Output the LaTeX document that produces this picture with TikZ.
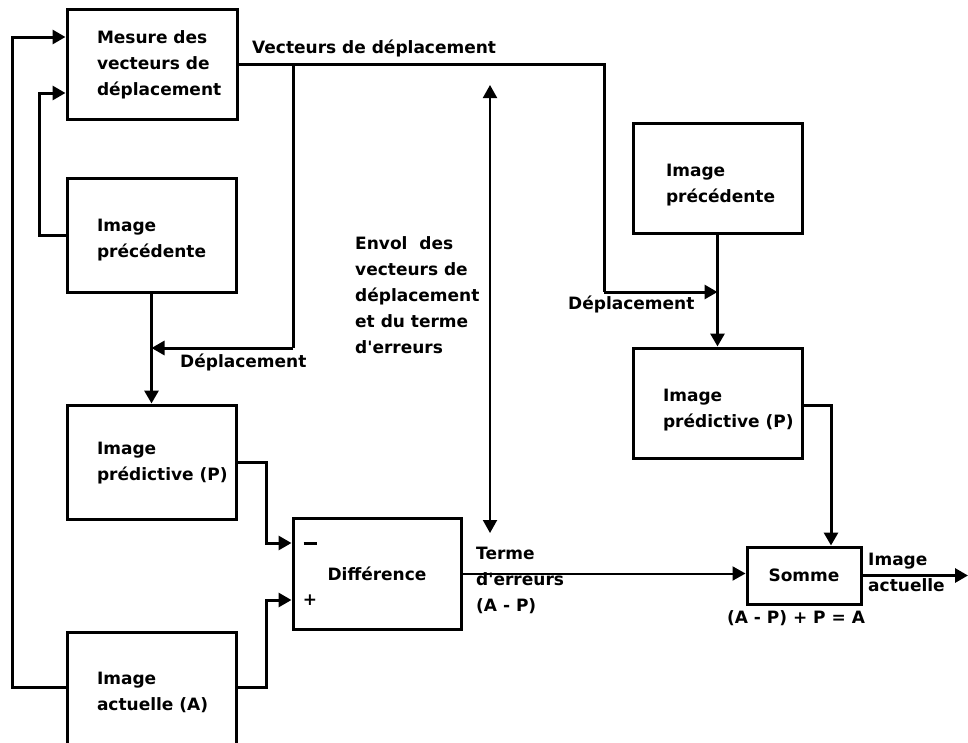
\documentclass[tikz,border=0pt]{standalone}
\usepackage{fontspec}
\setmainfont{DejaVu Sans}
\usetikzlibrary{arrows.meta}
\newcommand{\apos}{\textquotesingle}
% left-aligned block of lines in a fixed-width slot (may run past it),
% optionally dropped by #1 without changing its reported size
\newcommand{\slot}[3][0pt]{\makebox[#2][l]{\raisebox{-#1}[\height][\depth]{\begin{tabular}[c]{@{}l@{}}#3\end{tabular}}}}
\begin{document}
\begin{tikzpicture}[x=1pt,y=-1pt,
  every node/.style={font=\bfseries\fontsize{17}{26}\selectfont, inner sep=0pt},
  box/.style={draw, line width=3pt, inner xsep=30pt, inner ysep=0pt},
  cbox/.style={draw, line width=3pt, align=center},
  wire/.style={line width=3pt},
  thinwire/.style={line width=2pt},
  arr/.style={-{Triangle[length=13pt,width=14pt]}},
  dblarr/.style={{Triangle[length=13pt,width=14pt]}-{Triangle[length=13pt,width=14pt]}},
  lbl/.style={align=left}
]
\useasboundingbox (0,0) rectangle (968,742);
\clip (0,0) rectangle (968,742);

% blocks of the encoder (left) and decoder (right)
\node[box, minimum height=110pt] (mes) at (152,64)
  {\slot{110pt}{Mesure des\\vecteurs de\\déplacement}};
\node[box, minimum height=114pt] (prec) at (151.5,235)
  {\slot[4pt]{109pt}{Image\\précédente}};
\node[box, minimum height=114pt] (pred) at (151.5,462)
  {\slot{109pt}{Image\\prédictive (P)}};
\node[box, minimum height=118pt] (act) at (151.5,691)
  {\slot[1pt]{109pt}{Image\\actuelle (A)}};
\node[cbox, minimum width=168pt, minimum height=111pt] (diff) at (377,573.5)
  {Différence};
\node[box, minimum height=110pt, inner xsep=33pt] (rprec) at (717.5,178)
  {\slot[6pt]{103pt}{Image\\précédente}};
\node[box, minimum height=110pt] (rpred) at (717.5,403)
  {\slot[6pt]{109pt}{Image\\prédictive (P)}};
\node[cbox, minimum width=114pt, minimum height=57pt] (somme) at (804,575.5)
  {Somme};

% junctions and free ends
\coordinate (j1) at (293,64);
\coordinate (j3) at (151.5,348);
\coordinate (j2) at (717.5,292);
\coordinate (up) at (490,85);
\coordinate (down) at (490,533);
\coordinate (out) at (968,575.5);

% feedback loops into the motion estimator
\draw[wire, arr] (act.west |- 0,687) -- (12,687) -- (12,37) -- ([yshift=27pt]mes.west);
\draw[wire, arr] (prec.west) -- (39,235) -- (39,93) -- ([yshift=-29pt]mes.west);

% displacement vectors
\draw[wire] (mes.east) -- (604,64) -- (604,292);
\draw[wire, arr] (604,292) -- (j2);
\draw[wire] (j1) -- (293,348);
\draw[wire, arr] (293,348) -- (j3);
\draw[wire, arr] (prec.south) -- (pred.north);
\draw[wire, arr] (rprec.south) -- (rpred.north);

% difference and sum
\draw[wire, arr] (pred.east) -- (266,462) -- (266,543) -- ([yshift=30.5pt]diff.west);
\draw[wire, arr] (act.east |- 0,687) -- (266,687) -- (266,600) -- ([yshift=-26.5pt]diff.west);
\draw[thinwire, arr] (diff.east) -- (diff.east -| somme.west);
\draw[wire, arr] (rpred.east |- 0,405) -- (831,405) -- (somme.north -| 831,0);
\draw[wire, arr] (somme.east) -- (out);

% transmission
\draw[thinwire, dblarr] (up) -- (down);

% labels
\node[anchor=west] (lvec) at (252,48) {Vecteurs de déplacement};
\node[anchor=west] (ldep1) at (180,362) {Déplacement};
\node[anchor=west] (ldep2) at (568,304) {Déplacement};
\node[lbl, anchor=north west] (lenv) at (355,236)
  {Envol\ \ des\\vecteurs de\\déplacement\\et du terme\\d\apos erreurs};
\node[lbl, anchor=west] (lterme) at (476,580) {Terme\\d\apos erreurs\\(A - P)};
\node[lbl, anchor=west] (lact) at (868,572) {Image\\actuelle};
\node (lsum) at (796,618) {(A - P) + P = A};
\node (lminus) at (310,543) {\rule{13pt}{3pt}};
\node (lplus) at (310,600) {+};
\end{tikzpicture}
\end{document}
